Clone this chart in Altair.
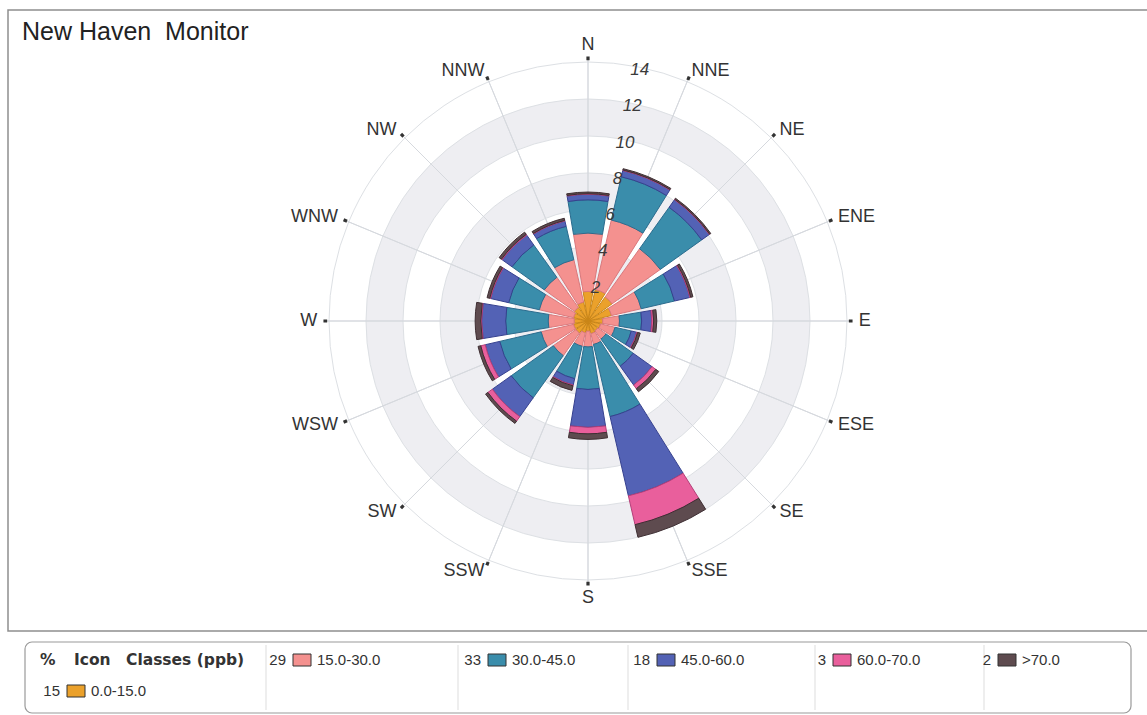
import math
import altair as alt
import pandas as pd

# ---- data -----------------------------------------------------------------
directions = ["N", "NNE", "NE", "ENE", "E", "ESE", "SE", "SSE",
              "S", "SSW", "SW", "WSW", "W", "WNW", "NW", "NNW"]
classes = ["0.0-15.0", "15.0-30.0", "30.0-45.0", "45.0-60.0", "60.0-70.0", ">70.0"]
class_pct = [15, 29, 33, 18, 3, 2]

# percent of hours per wind direction, one list per concentration class (ppb)
freq_0_15 = [1.6, 1.75, 1.6, 1.3, 0.8, 0.7, 0.65, 0.7, 0.55, 0.65, 0.8, 0.8, 0.75, 0.8, 0.9, 1.05]
freq_15_30 = [3.15, 3.85, 3.2, 1.65, 0.9, 0.8, 0.55, 0.6, 0.85, 0.75, 1.5, 1.8, 1.4, 1.9, 2.0, 2.35]
freq_30_45 = [1.8, 2.4, 2.75, 1.85, 1.2, 0.9, 1.8, 4.0, 2.3, 1.8, 2.8, 2.3, 2.3, 1.7, 2.15, 1.85]
freq_45_60 = [0.3, 0.35, 0.5, 0.85, 0.55, 0.3, 1.25, 4.4, 2.05, 0.35, 1.25, 0.8, 1.3, 1.0, 0.65, 0.3]
freq_60_70 = [0.03, 0.03, 0.03, 0.05, 0.1, 0.05, 0.25, 1.6, 0.35, 0.05, 0.3, 0.25, 0.05, 0.05, 0.05, 0.03]
freq_70_up = [0.09, 0.07, 0.07, 0.12, 0.17, 0.15, 0.2, 0.7, 0.3, 0.25, 0.15, 0.15, 0.3, 0.15, 0.15, 0.12]

ring_values = [2, 4, 6, 8, 10, 12, 14]
band_starts = [2, 6, 10]
band_ends = [4, 8, 12]

# ---- styling ----------------------------------------------------------------
fill_colors = ["#EBA12B", "#F4918F", "#3A8DAB", "#5362B5", "#E95F9C", "#5E4B4F"]
edge_colors = ["#C98517", "#D9787C", "#2B6C8E", "#36418F", "#B43F79", "#3E2E32"]
FONT = "Liberation Sans"
CX, CY = 588, 321          # centre of the rose on the canvas
PX_PER_UNIT = 18.5
SECTOR = 360 / len(directions)
HALF_WIDTH = 9.5           # half angular width of a wedge, degrees
OUTER = 14.2               # radius of compass marks

rscale = alt.Scale(type="linear", domain=[0, 14], range=[0, 14 * PX_PER_UNIT])
tscale = alt.Scale(type="linear", domain=[0, 360], range=[0, 2 * math.pi])

# ---- tables ---------------------------------------------------------------
series = [freq_0_15, freq_15_30, freq_30_45, freq_45_60, freq_60_70, freq_70_up]
rows = []
for i, d in enumerate(directions):
    base = 0.0
    for cls, vals in zip(classes, series):
        rows.append({"direction": d, "cls": cls, "angle": i * SECTOR,
                     "r0": base, "r1": base + vals[i]})
        base += vals[i]
wedges = pd.DataFrame(rows)
wedges["t0"] = wedges["angle"] - HALF_WIDTH
wedges["t1"] = wedges["angle"] + HALF_WIDTH

compass = pd.DataFrame({"direction": directions,
                        "angle": [i * SECTOR for i in range(len(directions))]})
compass["r"] = OUTER
compass["d0"] = compass["angle"] - 0.35
compass["d1"] = compass["angle"] + 0.35
compass["m0"] = OUTER - 0.1
compass["m1"] = OUTER + 0.1

rings = pd.DataFrame({"r": ring_values})
bands = pd.DataFrame({"r0": band_starts, "r1": band_ends})
ticks = pd.DataFrame({"r": ring_values, "label": [str(v) for v in ring_values]})
ticks["angle"] = 11.5

X0 = alt.value(CX)
Y0 = alt.value(CY)

# ---- grid -------------------------------------------------------------------
frame = alt.Chart(pd.DataFrame({"k": [0]})).mark_rect(
    fill="white", stroke="#8E8E8E", strokeWidth=1.5
).encode(x=alt.value(8), x2=alt.value(1170), y=alt.value(10), y2=alt.value(631))

band_layer = alt.Chart(bands).mark_arc(theta=0, theta2=2 * math.pi, fill="#EEEEF2").encode(
    x=X0, y=Y0,
    radius=alt.Radius("r1:Q", scale=rscale, stack=False),
    radius2="r0:Q",
)

ring_layer = alt.Chart(rings).mark_arc(
    theta=0, theta2=2 * math.pi, fillOpacity=0, stroke="#DDE0E4", strokeWidth=1
).encode(
    x=X0, y=Y0,
    radius=alt.Radius("r:Q", scale=rscale, stack=False),
    radius2=alt.value(0),
)

spoke_layer = alt.Chart(compass).mark_arc(stroke="#D6D9DE", strokeWidth=1, fillOpacity=0).encode(
    x=X0, y=Y0,
    theta=alt.Theta("angle:Q", scale=tscale, stack=False),
    theta2="angle:Q",
    radius=alt.Radius("r:Q", scale=rscale, stack=False),
    radius2=alt.value(0),
)

# ---- wedges -----------------------------------------------------------------
wedge_layer = alt.Chart(wedges).mark_arc(strokeWidth=1).encode(
    x=X0, y=Y0,
    theta=alt.Theta("t0:Q", scale=tscale, stack=False),
    theta2="t1:Q",
    radius=alt.Radius("r1:Q", scale=rscale, stack=False),
    radius2="r0:Q",
    fill=alt.Fill("cls:N", scale=alt.Scale(domain=classes, range=fill_colors), legend=None),
    stroke=alt.Stroke("cls:N", scale=alt.Scale(domain=classes, range=edge_colors), legend=None),
)

# ---- compass marks and labels ------------------------------------------------
dot_layer = alt.Chart(compass).mark_arc(fill="#333333").encode(
    x=X0, y=Y0,
    theta=alt.Theta("d0:Q", scale=tscale, stack=False),
    theta2="d1:Q",
    radius=alt.Radius("m1:Q", scale=rscale, stack=False),
    radius2="m0:Q",
)

def compass_text(sel, align, baseline, offset):
    return alt.Chart(compass.iloc[sel]).mark_text(
        align=align, baseline=baseline, radiusOffset=offset,
        font=FONT, fontSize=18, color="#333333",
    ).encode(
        x=X0, y=Y0,
        theta=alt.Theta("angle:Q", scale=tscale, stack=False),
        radius=alt.Radius("r:Q", scale=rscale, stack=False),
        text="direction:N",
    )

east_labels = compass_text(list(range(1, 8)), "left", "middle", 8)
west_labels = compass_text(list(range(9, 16)), "right", "middle", 8)
north_label = compass_text([0], "center", "bottom", 4)
south_label = compass_text([8], "center", "top", 5)

tick_labels = alt.Chart(ticks).mark_text(
    font=FONT, fontSize=17, fontStyle="italic", color="#3A3A3A",
    align="center", baseline="middle", dy=3,
).encode(
    x=X0, y=Y0,
    theta=alt.Theta("angle:Q", scale=tscale, stack=False),
    radius=alt.Radius("r:Q", scale=rscale, stack=False),
    text="label:N",
)

title = alt.Chart(pd.DataFrame({"t": ["New Haven\u00a0 Monitor"]})).mark_text(
    font=FONT, fontSize=25, color="#222222", align="left", baseline="alphabetic"
).encode(x=alt.value(22), y=alt.value(40), text="t:N")

# ---- legend -----------------------------------------------------------------
legend_box = alt.Chart(pd.DataFrame({"k": [0]})).mark_rect(
    fill="white", stroke="#9A9A9A", strokeWidth=1.2, cornerRadius=7
).encode(x=alt.value(25), x2=alt.value(1131), y=alt.value(642), y2=alt.value(713))

sep_x = [266, 458, 628, 815, 984]
separators = alt.Chart(pd.DataFrame({"x": sep_x})).mark_rule(
    stroke="#DDDDDD", strokeWidth=1
).encode(x=alt.X("x:Q", scale=None), y=alt.value(645), y2=alt.value(710))

# swatch left edge and text row for each class entry
swatch_left = [67, 293, 488, 657, 833, 998]
entry_row_y = [691, 660, 660, 660, 660, 660]
legend_df = pd.DataFrame({"cls": classes, "pct": [str(p) for p in class_pct],
                          "sx": swatch_left, "ry": entry_row_y})
legend_df["sx2"] = legend_df["sx"] + 18
legend_df["sy"] = legend_df["ry"] - 6
legend_df["sy2"] = legend_df["ry"] + 6
legend_df["nx"] = legend_df["sx"] - 7
legend_df["lx"] = legend_df["sx"] + 24

swatches = alt.Chart(legend_df).mark_rect(stroke="#333333", strokeWidth=1).encode(
    x=alt.X("sx:Q", scale=None), x2="sx2:Q",
    y=alt.Y("sy:Q", scale=None), y2="sy2:Q",
    fill=alt.Fill("cls:N", scale=alt.Scale(domain=classes, range=fill_colors), legend=None),
)
pct_text = alt.Chart(legend_df).mark_text(
    font=FONT, fontSize=15, color="#333333", align="right", baseline="middle"
).encode(x=alt.X("nx:Q", scale=None), y=alt.Y("ry:Q", scale=None), text="pct:N")
cls_text = alt.Chart(legend_df).mark_text(
    font=FONT, fontSize=15, color="#333333", align="left", baseline="middle"
).encode(x=alt.X("lx:Q", scale=None), y=alt.Y("ry:Q", scale=None), text="cls:N")

header_words = ["%", "Icon", "Classes (ppb)"]
header_x = [40, 74, 126]
header = alt.Chart(pd.DataFrame({"t": header_words, "x": header_x})).mark_text(
    font="DejaVu Sans", fontSize=15.5, fontWeight="bold", color="#333333",
    align="left", baseline="middle"
).encode(x=alt.X("x:Q", scale=None), y=alt.value(660), text="t:N")

chart = alt.layer(
    frame, band_layer, ring_layer, spoke_layer, wedge_layer, dot_layer,
    east_labels, west_labels, north_label, south_label, tick_labels, title,
    legend_box, separators, swatches, pct_text, cls_text, header,
).properties(
    width=1147, height=715, padding=0,
    autosize=alt.AutoSizeParams(type="none"),
    background="white",
).configure_view(strokeWidth=0)

chart.save("out.html", embed_options={"renderer": "svg", "actions": False})
